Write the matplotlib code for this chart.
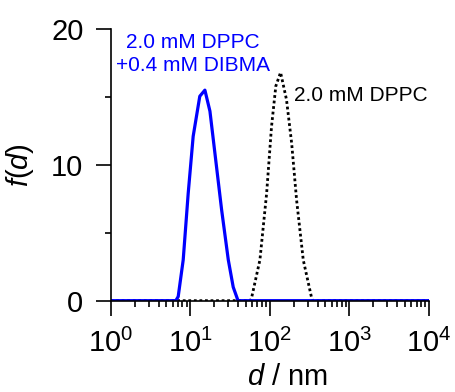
import numpy as np
import matplotlib.pyplot as plt
from matplotlib.ticker import LogLocator, MultipleLocator

plt.rcParams['font.family'] = ['Liberation Sans', 'DejaVu Sans']
plt.rcParams['mathtext.fontset'] = 'custom'
plt.rcParams['mathtext.rm'] = 'Liberation Sans'
plt.rcParams['mathtext.it'] = 'Liberation Sans:italic'

# 2.0 mM DPPC + 0.4 mM DIBMA
d_dibma = [1, 6.6, 7.07, 8.17, 9.44, 10.9, 13.2, 15.3, 17.7, 20.4, 24.8, 30.1, 34.7, 39.9, 1e4]
f_dibma = [0, 0, 0.3, 3.0, 7.9, 12.1, 15.05, 15.5, 13.95, 10.9, 6.7, 3.0, 1.0, 0, 0]

# 2.0 mM DPPC
d_dppc = [1, 57, 59, 75.1, 91.2, 105, 119, 136.5, 162, 188, 217, 263, 335, 345, 1e4]
f_dppc = [0, 0, 0.2, 3.0, 7.9, 12.8, 15.8, 16.8, 14.8, 11.6, 7.4, 3.0, 0.2, 0, 0]

fig = plt.figure(figsize=(4.55, 3.92), dpi=100)
ax = fig.add_axes([0.243, 0.233, 0.70, 0.693])

ax.plot(d_dppc, f_dppc, color='black', lw=2, linestyle=(0, (1, 1)))
ax.plot(d_dibma, f_dibma, color='#0000ff', lw=2.3)

ax.set_xscale('log')
ax.set_xlim(1, 1e4)
ax.set_ylim(0, 20)
ax.xaxis.set_major_locator(LogLocator(base=10, numticks=10))
ax.xaxis.set_minor_locator(LogLocator(base=10, subs=np.arange(2, 10), numticks=10))
ax.yaxis.set_major_locator(MultipleLocator(10))
ax.yaxis.set_minor_locator(MultipleLocator(5))

for s in ['top', 'right']:
    ax.spines[s].set_visible(False)
for s in ['left', 'bottom']:
    ax.spines[s].set_linewidth(1.2)

ax.tick_params(which='major', direction='out', length=10.5, width=1.2, labelsize=21)
ax.tick_params(which='minor', direction='out', length=4.5, width=1.2)
ax.tick_params(axis='x', which='major', pad=10)
ax.tick_params(axis='y', which='major', pad=9)

ax.set_xlabel('$\\mathit{d}$ / nm', fontsize=21)
ax.set_ylabel('$\\mathit{f}$($\\mathit{d}$)', fontsize=21)
ax.xaxis.set_label_coords(0.554, -0.228)
ax.yaxis.set_label_coords(-0.235, 0.5)

ax.text(0.259, 0.909, '2.0 mM DPPC\n+0.4 mM DIBMA', transform=ax.transAxes,
        color='#0000ff', fontsize=15, ha='center', va='center', linespacing=1.25)
ax.text(0.576, 0.757, '2.0 mM DPPC', transform=ax.transAxes,
        color='black', fontsize=15, ha='left', va='center')

fig.savefig('out.png', dpi=100)
